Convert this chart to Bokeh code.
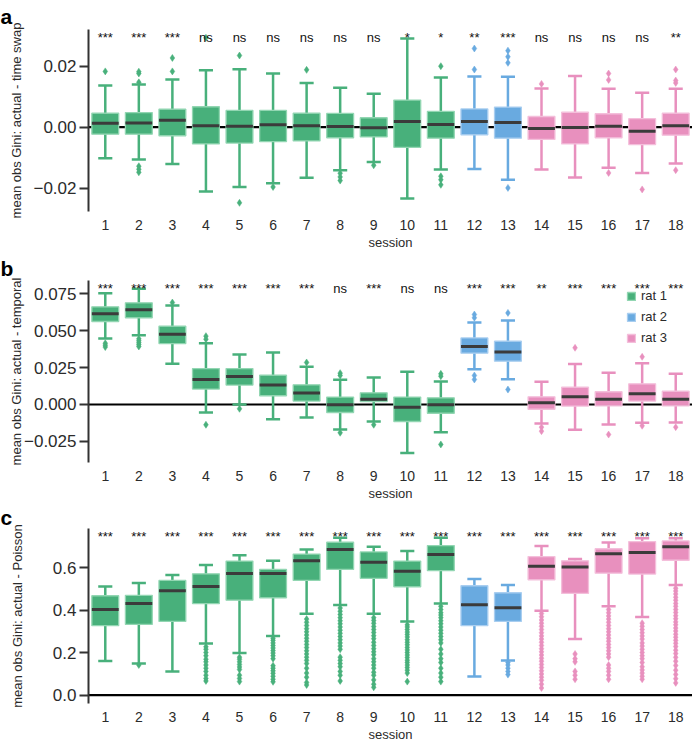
from bokeh.plotting import figure
from bokeh.models import Range1d, FixedTicker, Span, Legend, LegendItem
from bokeh.layouts import column
from bokeh.embed import file_html
from bokeh.resources import INLINE
from bokeh.core.properties import value

sessions = [1, 2, 3, 4, 5, 6, 7, 8, 9, 10, 11, 12, 13, 14, 15, 16, 17, 18]
rat = [1, 1, 1, 1, 1, 1, 1, 1, 1, 1, 1, 2, 2, 3, 3, 3, 3, 3]
rat_names = ["rat 1", "rat 2", "rat 3"]
tick_labels_x = [str(s) for s in sessions]

# ---------- panel a: actual - time swap ----------
a_q1 = [-0.0023, -0.0023, -0.0028, -0.0055, -0.0052, -0.0047, -0.0045, -0.0035, -0.0032,
        -0.0066, -0.0036, -0.0025, -0.0036, -0.0040, -0.0055, -0.0035, -0.0057, -0.0026]
a_med = [0.0013, 0.0014, 0.0023, 0.0005, 0.0003, 0.0008, 0.0005, 0.0002, -0.0002,
         0.0019, 0.0009, 0.0019, 0.0015, -0.0004, -0.0001, 0.0003, -0.0013, 0.0005]
a_q3 = [0.0046, 0.0048, 0.0059, 0.0067, 0.0055, 0.0055, 0.0046, 0.0045, 0.0031,
        0.0089, 0.0052, 0.0060, 0.0066, 0.0035, 0.0049, 0.0044, 0.0028, 0.0046]
a_lo = [-0.0102, -0.0106, -0.0121, -0.0211, -0.0196, -0.0184, -0.0166, -0.0141, -0.0114,
        -0.0234, -0.0139, -0.0137, -0.0172, -0.0139, -0.0165, -0.0133, -0.0150, -0.0119]
a_hi = [0.0137, 0.0140, 0.0156, 0.0187, 0.0190, 0.0176, 0.0145, 0.0129, 0.0110,
        0.0291, 0.0163, 0.0166, 0.0165, 0.0127, 0.0168, 0.0126, 0.0113, 0.0126]
a_out = [[0.0183], [0.0182, 0.0176, 0.0147, -0.0128, -0.0138, -0.0148], [0.0227, 0.0183],
         [0.0293], [0.0235, -0.0248], [-0.0196], [0.0188], [-0.0151, -0.0163, -0.0175],
         [-0.0125], [], [0.0200, -0.0161, -0.0172, -0.0189], [0.0258, 0.0189],
         [0.0251, 0.0231, 0.0211, -0.0199], [0.0142], [], [0.0176, 0.0155, -0.0150],
         [-0.0204], [0.0189, 0.0153, 0.0145, -0.0141]]
a_sig = ["***", "***", "***", "ns", "ns", "ns", "ns", "ns", "ns", "*", "*", "**", "***",
         "ns", "ns", "ns", "ns", "**"]
a_ticks = [-0.02, 0.0, 0.02]
a_tick_labels = ["\u22120.02", "0.00", "0.02"]

# ---------- panel b: actual - temporal ----------
b_q1 = [0.0561, 0.0586, 0.0412, 0.0104, 0.0131, 0.0059, 0.0023, -0.0054, 0.0020,
        -0.0115, -0.0059, 0.0347, 0.0293, -0.0032, -0.0011, -0.0009, 0.0023, -0.0009]
b_med = [0.0613, 0.0640, 0.0475, 0.0169, 0.0189, 0.0131, 0.0077, -0.0002, 0.0036,
         -0.0018, -0.0002, 0.0392, 0.0354, 0.0011, 0.0052, 0.0036, 0.0072, 0.0036]
b_q3 = [0.0660, 0.0687, 0.0529, 0.0243, 0.0243, 0.0198, 0.0133, 0.0050, 0.0079,
        0.0050, 0.0045, 0.0450, 0.0428, 0.0052, 0.0117, 0.0086, 0.0140, 0.0090]
b_lo = [0.0446, 0.0468, 0.0275, -0.0054, 0.0000, -0.0099, -0.0088, -0.0169, -0.0115,
        -0.0327, -0.0187, 0.0239, 0.0171, -0.0128, -0.0171, -0.0135, -0.0124, -0.0122]
b_hi = [0.0752, 0.0782, 0.0669, 0.0414, 0.0338, 0.0351, 0.0255, 0.0167, 0.0182,
        0.0221, 0.0155, 0.0554, 0.0568, 0.0153, 0.0273, 0.0214, 0.0279, 0.0207]
b_out = [[0.0414, 0.0401, 0.0388], [0.0444, 0.0431, 0.0418, 0.0405, 0.0392], [0.0689],
         [0.0462, 0.0441, -0.0137], [-0.0029], [], [0.0284], [0.0212, 0.0196, -0.0191],
         [-0.0137], [], [0.0207, 0.0191, -0.0270], [0.0608, 0.0586, 0.0196, 0.0169],
         [0.0619, 0.0101], [-0.0153, -0.0180], [0.0383], [-0.0203], [0.0322, -0.0144],
         [-0.0153]]
b_sig = ["***", "***", "***", "***", "***", "***", "***", "ns", "***", "ns", "ns", "***",
         "***", "**", "***", "***", "***", "***"]
b_ticks = [-0.025, 0.0, 0.025, 0.05, 0.075]
b_tick_labels = ["\u22120.025", "0.000", "0.025", "0.050", "0.075"]

# ---------- panel c: actual - Poisson ----------
c_q1 = [0.327, 0.333, 0.347, 0.431, 0.447, 0.458, 0.540, 0.592, 0.550,
        0.510, 0.586, 0.327, 0.347, 0.543, 0.479, 0.574, 0.570, 0.635]
c_med = [0.403, 0.431, 0.492, 0.512, 0.573, 0.573, 0.632, 0.686, 0.625,
         0.583, 0.662, 0.425, 0.412, 0.607, 0.603, 0.665, 0.671, 0.698]
c_q3 = [0.468, 0.470, 0.540, 0.571, 0.631, 0.592, 0.664, 0.720, 0.674,
        0.631, 0.704, 0.515, 0.482, 0.652, 0.632, 0.689, 0.723, 0.726]
c_lo = [0.161, 0.149, 0.112, 0.243, 0.198, 0.279, 0.383, 0.424, 0.383,
        0.347, 0.431, 0.088, 0.163, 0.397, 0.265, 0.418, 0.368, 0.519]
c_hi = [0.512, 0.528, 0.565, 0.613, 0.659, 0.632, 0.685, 0.741, 0.698,
        0.679, 0.741, 0.547, 0.518, 0.702, 0.641, 0.719, 0.738, 0.738]
c_out = [
    [],
    [0.142],
    [],
    [0.228, 0.216, 0.201, 0.186, 0.169, 0.157, 0.142, 0.127, 0.112, 0.094, 0.079, 0.067],
    [0.179, 0.169, 0.157, 0.145, 0.133, 0.121, 0.094, 0.079, 0.064],
    [0.268, 0.258, 0.246, 0.234, 0.222, 0.210, 0.198, 0.186, 0.172, 0.139, 0.127, 0.115,
     0.103, 0.089, 0.075, 0.063],
    [0.358, 0.343, 0.328, 0.313, 0.298, 0.283, 0.268, 0.254, 0.239, 0.224, 0.209, 0.194,
     0.179, 0.164, 0.149, 0.127, 0.104, 0.085, 0.060, 0.048],
    [0.410, 0.395, 0.380, 0.365, 0.350, 0.336, 0.321, 0.306, 0.291, 0.276, 0.261, 0.246,
     0.231, 0.216, 0.179, 0.164, 0.149, 0.134, 0.112, 0.094, 0.067],
    [0.365, 0.352, 0.338, 0.323, 0.309, 0.295, 0.280, 0.266, 0.249, 0.234, 0.219, 0.204,
     0.190, 0.172, 0.157, 0.142, 0.127, 0.108, 0.094, 0.072, 0.052, 0.037],
    [0.331, 0.321, 0.309, 0.297, 0.286, 0.274, 0.261, 0.249, 0.237, 0.225, 0.213, 0.201,
     0.189, 0.177, 0.165, 0.154, 0.142, 0.130, 0.118, 0.104, 0.064],
    [0.418, 0.403, 0.388, 0.377, 0.365, 0.350, 0.336, 0.321, 0.306, 0.291, 0.276, 0.261,
     0.246, 0.216, 0.194, 0.172, 0.154, 0.127, 0.104, 0.085, 0.064],
    [],
    [0.154, 0.142, 0.127, 0.112, 0.097],
    [0.384, 0.369, 0.354, 0.339, 0.324, 0.309, 0.294, 0.279, 0.264, 0.249, 0.234, 0.219,
     0.204, 0.189, 0.174, 0.160, 0.145, 0.130, 0.115, 0.100, 0.085, 0.070, 0.052, 0.034],
    [0.194, 0.172, 0.157, 0.112, 0.094, 0.075],
    [0.403, 0.388, 0.373, 0.358, 0.343, 0.328, 0.313, 0.298, 0.283, 0.268, 0.254, 0.239,
     0.224, 0.209, 0.194, 0.179, 0.142, 0.127, 0.112, 0.094, 0.075],
    [0.339, 0.324, 0.309, 0.294, 0.279, 0.264, 0.246, 0.231, 0.216, 0.201, 0.186, 0.172,
     0.154, 0.134, 0.119, 0.104, 0.089, 0.075],
    [0.503, 0.490, 0.476, 0.461, 0.447, 0.432, 0.418, 0.403, 0.389, 0.374, 0.360, 0.345,
     0.331, 0.316, 0.302, 0.287, 0.273, 0.258, 0.244, 0.229, 0.212, 0.196, 0.178, 0.160,
     0.140, 0.118, 0.098, 0.078, 0.058],
]
c_sig = ["***"] * 18
c_ticks = [0.0, 0.2, 0.4, 0.6]
c_tick_labels = ["0.0", "0.2", "0.4", "0.6"]

# ---------- styling ----------
FILL = {1: "#48b07b", 2: "#69aae0", 3: "#e890be"}
EDGE = {1: "#92d6b2", 2: "#a9cef0", 3: "#f4bfdb"}
MEDIAN = "#3b3b3b"
TEXT = "#2b2b2b"
AXIS = "#333333"
FONT = "Liberation Sans"
BOX_W = 0.8
CAP_W = 0.42
LEFT = 88
FRAME_W = 604


def make_panel(letter, ylabel, q1, med, q3, lo, hi, out, sig, yticks, ytlabels,
               yrange, frame_h, top_border, title_standoff, label_standoff,
               bottom_border=40, legend=False):
    p = figure(frame_width=FRAME_W, frame_height=frame_h, output_backend="svg",
               toolbar_location=None, x_range=Range1d(0.5, 18.5),
               y_range=Range1d(*yrange), min_border_left=LEFT, min_border_right=0,
               min_border_top=top_border, min_border_bottom=bottom_border)
    p.outline_line_color = None
    p.xgrid.visible = False
    p.ygrid.visible = False
    p.background_fill_color = "white"
    p.border_fill_color = "white"

    # panel letter as a left-aligned title
    p.title.text = letter
    p.title.align = "left"
    p.title.offset = -LEFT
    p.title.standoff = title_standoff
    p.title.text_font = FONT
    p.title.text_font_style = "bold"
    p.title.text_font_size = "21px"
    p.title.text_color = "black"

    # zero reference line
    p.add_layout(Span(location=0, dimension="width", line_color="black",
                      line_width=2.2, level="underlay"))

    renderers = {}
    for r in (1, 2, 3):
        idx = [i for i in range(18) if rat[i] == r]
        xs = [sessions[i] for i in idx]
        col = FILL[r]
        p.segment(x0=xs, y0=[q3[i] for i in idx], x1=xs, y1=[hi[i] for i in idx],
                  line_color=col, line_width=2.5)
        p.segment(x0=xs, y0=[q1[i] for i in idx], x1=xs, y1=[lo[i] for i in idx],
                  line_color=col, line_width=2.5)
        p.segment(x0=[x - CAP_W / 2 for x in xs], y0=[hi[i] for i in idx],
                  x1=[x + CAP_W / 2 for x in xs], y1=[hi[i] for i in idx],
                  line_color=col, line_width=2.5)
        p.segment(x0=[x - CAP_W / 2 for x in xs], y0=[lo[i] for i in idx],
                  x1=[x + CAP_W / 2 for x in xs], y1=[lo[i] for i in idx],
                  line_color=col, line_width=2.5)
        renderers[r] = p.vbar(x=xs, width=BOX_W, bottom=[q1[i] for i in idx],
                              top=[q3[i] for i in idx], fill_color=col,
                              line_color=EDGE[r], line_width=1.3)
        p.segment(x0=[x - BOX_W / 2 for x in xs], y0=[med[i] for i in idx],
                  x1=[x + BOX_W / 2 for x in xs], y1=[med[i] for i in idx],
                  line_color=MEDIAN, line_width=3)
        ox, oy = [], []
        for i in idx:
            for v in out[i]:
                ox.append(sessions[i])
                oy.append(v)
        if ox:
            p.scatter(x=ox, y=oy, marker="diamond", size=7, fill_color=col,
                      line_color=col, line_width=0.5)

    # significance labels
    px_per_unit = frame_h / (yrange[1] - yrange[0])
    ysig = yrange[1] - 7.5 / px_per_unit
    p.text(x=sessions, y=[ysig] * 18, text=sig, text_align="center",
           text_baseline="alphabetic", text_font=value(FONT), text_font_size="13px",
           text_color="#111111")

    # axes
    xa = p.xaxis[0]
    xa.ticker = FixedTicker(ticks=sessions)
    xa.major_label_overrides = {s: t for s, t in zip(sessions, tick_labels_x)}
    xa.axis_line_color = None
    xa.major_tick_line_color = None
    xa.minor_tick_line_color = None
    xa.major_tick_out = 0
    xa.major_tick_in = 0
    xa.major_label_standoff = 8
    xa.major_label_text_font = FONT
    xa.major_label_text_font_size = "14px"
    xa.major_label_text_color = TEXT
    xa.axis_label = "session"
    xa.axis_label_text_font = FONT
    xa.axis_label_text_font_size = "13px"
    xa.axis_label_text_font_style = "normal"
    xa.axis_label_text_color = TEXT
    xa.axis_label_standoff = 2

    ya = p.yaxis[0]
    ya.ticker = FixedTicker(ticks=yticks)
    ya.major_label_overrides = {t: l for t, l in zip(yticks, ytlabels)}
    ya.axis_line_color = AXIS
    ya.axis_line_width = 2
    ya.major_tick_line_color = AXIS
    ya.major_tick_line_width = 2
    ya.major_tick_out = 9
    ya.major_tick_in = 0
    ya.minor_tick_line_color = None
    ya.major_label_standoff = 3
    ya.major_label_text_font = FONT
    ya.major_label_text_font_size = "17px"
    ya.major_label_text_color = TEXT
    ya.axis_label = ylabel
    ya.axis_label_text_font = FONT
    ya.axis_label_text_font_size = "13px"
    ya.axis_label_text_font_style = "normal"
    ya.axis_label_text_color = TEXT
    ya.axis_label_standoff = label_standoff

    if legend:
        items = [LegendItem(label=rat_names[r - 1], renderers=[renderers[r]])
                 for r in (1, 2, 3)]
        leg = Legend(items=items, location=(538, 117), glyph_width=10, glyph_height=10,
                     spacing=6, padding=0, margin=0,
                     label_standoff=5, border_line_color=None,
                     background_fill_alpha=0, label_text_font=FONT,
                     label_text_font_size="13px", label_text_color=TEXT)
        p.add_layout(leg)
    return p


pa = make_panel("a", "mean obs Gini: actual - time swap", a_q1, a_med, a_q3, a_lo, a_hi,
                a_out, a_sig, a_ticks, a_tick_labels, (-0.02764, 0.03203), 182, 29, 3, 6)
pb = make_panel("b", "mean obs Gini: actual - temporal", b_q1, b_med, b_q3, b_lo, b_hi,
                b_out, b_sig, b_ticks, b_tick_labels, (-0.0392, 0.0838), 182, 28, 2, -3,
                legend=True)
pc = make_panel("c", "mean obs Gini: actual - Poisson", c_q1, c_med, c_q3, c_lo, c_hi,
                c_out, c_sig, c_ticks, c_tick_labels, (-0.039, 0.7843), 175, 21, 0, 25,
                bottom_border=38)

layout = column(pa, pb, pc, spacing=0)
open("out.html", "w").write(file_html(layout, INLINE))
